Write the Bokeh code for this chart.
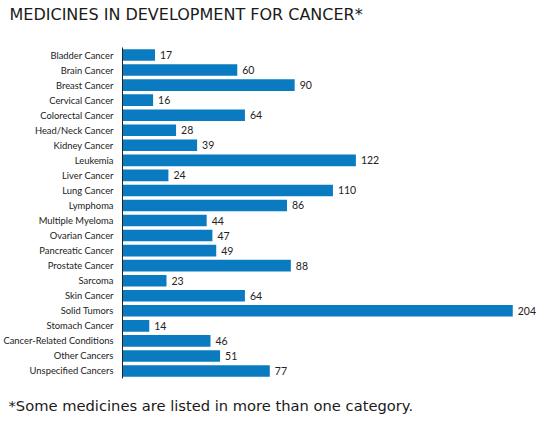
from bokeh.plotting import figure
from bokeh.models import Range1d, FactorRange, ColumnDataSource, Title
from bokeh.core.properties import value
from bokeh.embed import file_html
from bokeh.resources import INLINE

categories = ["Bladder Cancer", "Brain Cancer", "Breast Cancer", "Cervical Cancer",
              "Colorectal Cancer", "Head/Neck Cancer", "Kidney Cancer", "Leukemia",
              "Liver Cancer", "Lung Cancer", "Lymphoma", "Multiple Myeloma",
              "Ovarian Cancer", "Pancreatic Cancer", "Prostate Cancer", "Sarcoma",
              "Skin Cancer", "Solid Tumors", "Stomach Cancer",
              "Cancer-Related Conditions", "Other Cancers", "Unspecified Cancers"]
values = [17, 60, 90, 16, 64, 28, 39, 122, 24, 110, 86, 44, 47, 49, 88, 23, 64, 204, 14, 46, 51, 77]

title_text = "MEDICINES IN DEVELOPMENT FOR CANCER*"
footnote = "*Some medicines are listed in more than one category."

W, H = 536, 414
left, top, bottom = 114, 47, 36
px_per_unit = 1.95
x_end = (W - left) / px_per_unit

src = ColumnDataSource(dict(cat=categories, val=values, lab=[str(v) for v in values]))
p = figure(width=W, height=H, output_backend="svg", toolbar_location=None,
           title=None, x_axis_location=None,
           y_range=FactorRange(*reversed(categories)), x_range=Range1d(0, x_end),
           min_border_left=left, min_border_right=0, min_border_top=top,
           min_border_bottom=bottom)
p.outline_line_color = None
p.grid.visible = False

p.hbar(y="cat", right="val", left=0, height=0.77, source=src,
       fill_color="#0a7bc1", line_color=None)
p.text(x="val", y="cat", text="lab", source=src, x_offset=5,
       text_baseline="middle", text_align="left", text_font_size="10.5px",
       text_font=value("Lato"), text_color="#222222")

ax = p.yaxis[0]
ax.major_tick_line_color = None
ax.minor_tick_line_color = None
ax.axis_line_color = "#222222"
ax.major_label_standoff = 3
ax.major_label_text_font = "Lato"
ax.major_label_text_font_size = "9.4px"
ax.major_label_text_color = "#222222"

# spacer next to the frame, then the real title on top
p.add_layout(Title(text=" ", text_font_size="2px", standoff=19), "above")
p.add_layout(Title(text=title_text, align="left", offset=-113, standoff=2,
                   text_font="DejaVu Sans", text_font_size="16px",
                   text_font_style="normal", text_color="#1a1a1a"), "above")

# spacer below the frame, then the footnote
p.add_layout(Title(text=" ", text_font_size="2px", standoff=12), "below")
p.add_layout(Title(text=footnote, align="left", offset=-114, standoff=0,
                   text_font="DejaVu Sans", text_font_size="14.7px",
                   text_font_style="normal", text_color="#1a1a1a"), "below")

open("out.html", "w").write(file_html(p, INLINE))
